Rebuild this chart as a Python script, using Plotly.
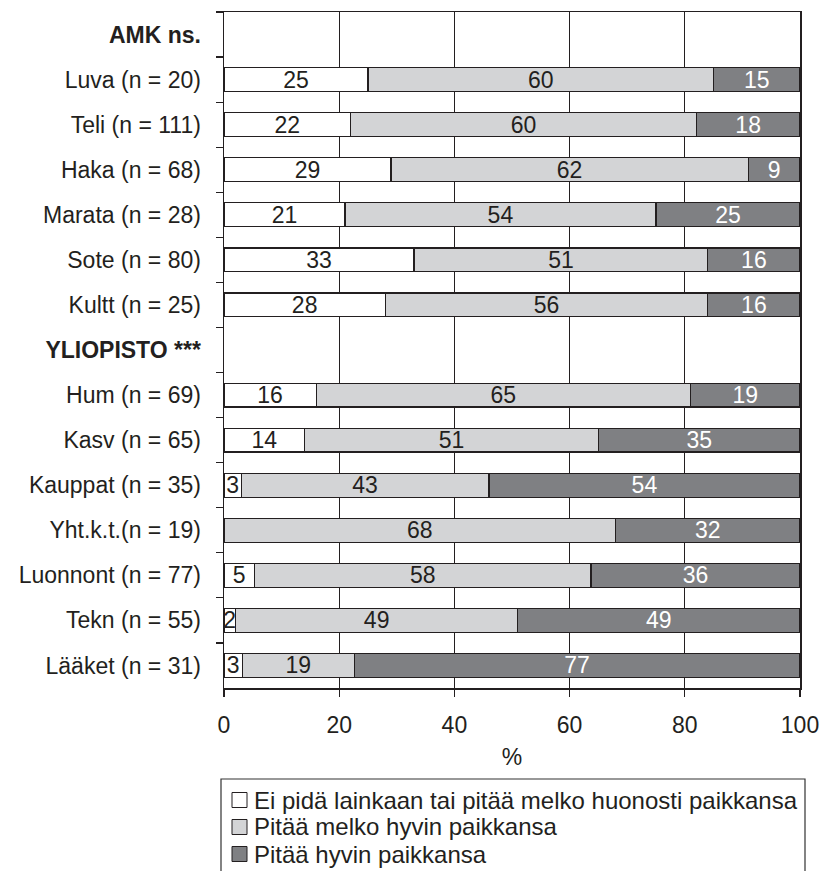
import plotly.graph_objects as go

categories = ["<b>AMK ns.</b>", "Luva (n = 20)", "Teli (n = 111)", "Haka (n = 68)",
              "Marata (n = 28)", "Sote (n = 80)", "Kultt (n = 25)", "<b>YLIOPISTO ***</b>",
              "Hum (n = 69)", "Kasv (n = 65)", "Kauppat (n = 35)", "Yht.k.t.(n = 19)",
              "Luonnont (n = 77)", "Tekn (n = 55)", "Lääket (n = 31)"]
ei_pida = [None, 25, 22, 29, 21, 33, 28, None, 16, 14, 3, 0, 5.3, 2, 3.2]
melko_hyvin = [None, 60, 60, 62, 54, 51, 56, None, 65, 51, 43, 68, 58.4, 49, 19.4]
hyvin = [None, 15, 18, 9, 25, 16, 16, None, 19, 35, 54, 32, 36.3, 49, 77.4]
series_names = ["Ei pidä lainkaan tai pitää melko huonosti paikkansa",
                "Pitää melko hyvin paikkansa",
                "Pitää hyvin paikkansa"]
x_ticks = [0, 20, 40, 60, 80, 100]

FONT = "Liberation Sans, Arial, sans-serif"
TXT = "#231f20"
colors = ["#ffffff", "#d3d4d6", "#7f8083"]
text_colors = [TXT, TXT, "#ffffff"]
FS = 23

fig = go.Figure()
for vals, name, col, tcol in zip([ei_pida, melko_hyvin, hyvin], series_names, colors, text_colors):
    labels = [f"{v:.0f}" if (v is not None and v > 0) else "" for v in vals]
    fig.add_trace(go.Bar(
        y=categories, x=vals, name=name, orientation="h",
        marker=dict(color=col, line=dict(color="#231f20", width=1.2)),
        text=labels, textposition="inside", insidetextanchor="middle",
        textangle=0, constraintext="none", cliponaxis=False,
        textfont=dict(family=FONT, size=FS, color=tcol),
        showlegend=False, hoverinfo="skip",
    ))

# manual legend
def py(pix):
    return (688 - pix) / 676.0
def px(pix):
    return (pix - 224) / 576.0

shapes = [dict(type="rect", xref="paper", yref="paper", x0=px(221), x1=px(805),
               y0=py(880), y1=py(779), line=dict(color="#333333", width=1.2),
               fillcolor="rgba(0,0,0,0)")]
annotations = []
for i, (name, col) in enumerate(zip(series_names, colors)):
    cy = 800 + 27 * i
    shapes.append(dict(type="rect", xref="paper", yref="paper", x0=px(232), x1=px(247),
                       y0=py(cy + 7.5), y1=py(cy - 7.5), fillcolor=col,
                       line=dict(color="#231f20", width=1)))
    annotations.append(dict(x=px(252), y=py(cy), xref="paper", yref="paper", text=name,
                            showarrow=False, xanchor="left", yanchor="middle",
                            font=dict(family=FONT, size=24, color=TXT)))

fig.update_layout(
    barmode="stack", bargap=0.47,
    width=822, height=871,
    margin=dict(l=224, r=22, t=12, b=183),
    plot_bgcolor="white", paper_bgcolor="white",
    font=dict(family=FONT, size=FS, color=TXT),
    shapes=shapes, annotations=annotations,
    showlegend=False,
)
fig.update_xaxes(range=[0, 100], tickvals=x_ticks, ticktext=[str(t) for t in x_ticks],
                 showgrid=True, gridcolor="#231f20", gridwidth=1,
                 showline=True, linecolor="#231f20", linewidth=1.5, mirror=True,
                 ticks="outside", ticklen=7, tickcolor="#231f20", tickwidth=1.2,
                 ticklabelstandoff=9, zeroline=False, automargin=False,
                 title=dict(text="%", standoff=12, font=dict(size=FS)),
                 tickfont=dict(size=FS))
fig.update_yaxes(type="category", categoryorder="array", categoryarray=categories,
                 autorange="reversed", showgrid=False, automargin=False,
                 showline=True, linecolor="#231f20", linewidth=1.5, mirror=True,
                 ticks="outside", tickson="boundaries", ticklen=7, tickcolor="#231f20",
                 tickwidth=1.2, ticklabelstandoff=17, tickfont=dict(size=FS))

fig.write_html("out.html", config={"displayModeBar": False, "staticPlot": True},
               post_script="document.body.style.margin='0';document.body.style.overflow='hidden';")
